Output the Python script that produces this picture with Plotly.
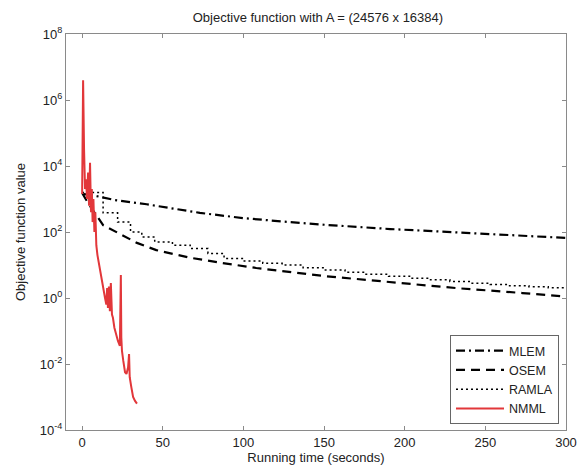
import plotly.graph_objects as go

# ---- data (y values are log10 of the objective) ----
mlem_t = [1, 6, 20, 40, 73, 100, 129, 150, 191, 253, 300]
mlem_log = [3.15, 3.12, 2.97, 2.84, 2.58, 2.42, 2.30, 2.22, 2.09, 1.94, 1.82]

osem_t = [0, 4, 13, 22, 34, 46, 59, 67, 87, 108, 149, 191, 232, 273, 295, 300]
osem_log = [3.18, 2.85, 2.21, 1.97, 1.67, 1.45, 1.30, 1.22, 1.06, 0.91, 0.67, 0.48, 0.30, 0.15, 0.06, 0.04]

ramla_t = [0, 13, 22, 30, 37, 45, 56, 67, 78, 88, 100, 112, 124, 137, 150, 163, 176,
           190, 203, 216, 228, 240, 253, 265, 277, 289, 300]
ramla_log = [3.2, 2.58, 2.3, 2.0, 1.85, 1.7, 1.6, 1.5, 1.35, 1.2, 1.12, 1.05, 1.0, 0.92,
             0.85, 0.78, 0.72, 0.66, 0.6, 0.55, 0.5, 0.45, 0.41, 0.37, 0.34, 0.31, 0.29]

nmml_t = [0.0, 0.6, 1.2, 1.8, 2.5, 3.0, 3.7, 4.3, 4.9, 5.5, 6.0, 6.5, 7.0, 7.6, 8.2, 8.8,
          9.5, 10.5, 11.5, 12.5, 13.5, 14.2, 15.0, 15.5, 16.0, 16.6, 17.2, 17.8, 18.5,
          19.1, 20.0, 21.0, 22.2, 23.4, 24.0, 24.3, 24.7, 25.5, 26.6, 27.5, 28.5, 29.1,
          29.5, 30.5, 31.6, 32.8, 34.0]
nmml_log = [3.15, 6.6, 4.5, 3.3, 3.6, 3.0, 3.8, 2.8, 4.1, 2.6, 3.3, 2.3, 3.0, 2.0, 2.6, 1.6,
            1.3, 1.0, 0.7, 0.45, 0.2, 0.0, -0.2, 0.3, -0.3, 0.35, -0.4, 0.45, -0.5,
            -0.6, -0.9, -1.1, -1.3, -1.45, 0.7, -1.2, -1.6, -1.9, -2.25, -2.3, -2.1, -1.7,
            -2.4, -2.7, -3.0, -3.12, -3.2]

x_ticks = [0, 50, 100, 150, 200, 250, 300]
y_exps = [-4, -2, 0, 2, 4, 6, 8]

def tolin(v):
    return [10 ** e for e in v]

fig = go.Figure()
fig.add_trace(go.Scatter(x=mlem_t, y=tolin(mlem_log), mode="lines", name="MLEM",
                         line=dict(color="black", width=2.2, dash="9px,4px,2px,4px")))
fig.add_trace(go.Scatter(x=osem_t, y=tolin(osem_log), mode="lines", name="OSEM",
                         line=dict(color="black", width=2.2, dash="9px,6px")))
fig.add_trace(go.Scatter(x=ramla_t, y=tolin(ramla_log), mode="lines", name="RAMLA",
                         line=dict(color="black", width=1.5, dash="2px,3px", shape="hv")))
fig.add_trace(go.Scatter(x=nmml_t, y=tolin(nmml_log), mode="lines", name="NMML",
                         line=dict(color="#e2373a", width=2)))

axis_common = dict(showline=True, linecolor="#8a8a8a", linewidth=1, mirror="allticks",
                   ticks="inside", ticklen=4, tickcolor="#8a8a8a", showgrid=False,
                   zeroline=False, automargin=False, tickfont=dict(size=13, color="#222"))

fig.update_xaxes(range=[-10, 300], tickvals=x_ticks, ticktext=[str(v) for v in x_ticks],
                 title=dict(text="Running time (seconds)", font=dict(size=13, color="#222"), standoff=1),
                 **axis_common)
fig.update_yaxes(type="log", range=[-4, 8], tickvals=[10 ** e for e in y_exps],
                 ticktext=["10<sup>%d</sup>" % e for e in y_exps],
                 **axis_common)

fig.add_annotation(text="Objective function value", xref="paper", yref="paper",
                   x=-0.092, y=0.5, xanchor="center", yanchor="middle", textangle=-90,
                   showarrow=False, font=dict(size=13, color="#222"))

fig.update_layout(
    width=577, height=467,
    margin=dict(l=66, r=11, t=34, b=37),
    paper_bgcolor="white", plot_bgcolor="white",
    font=dict(family="Liberation Sans, Arial, sans-serif", size=13, color="#222"),
    title=dict(text="Objective function with A = (24576 x 16384)", x=0.551, xanchor="center",
               y=0.962, yanchor="middle", font=dict(size=13, color="#222")),
    legend=dict(x=0.986, y=0.015, xanchor="right", yanchor="bottom",
                bordercolor="#666", borderwidth=1, bgcolor="white",
                font=dict(size=12.5, color="#222"), tracegroupgap=0, itemwidth=48),
    showlegend=True,
)

fig.write_html("out.html", config={"displayModeBar": False},
               post_script="document.body.style.margin='0';")
